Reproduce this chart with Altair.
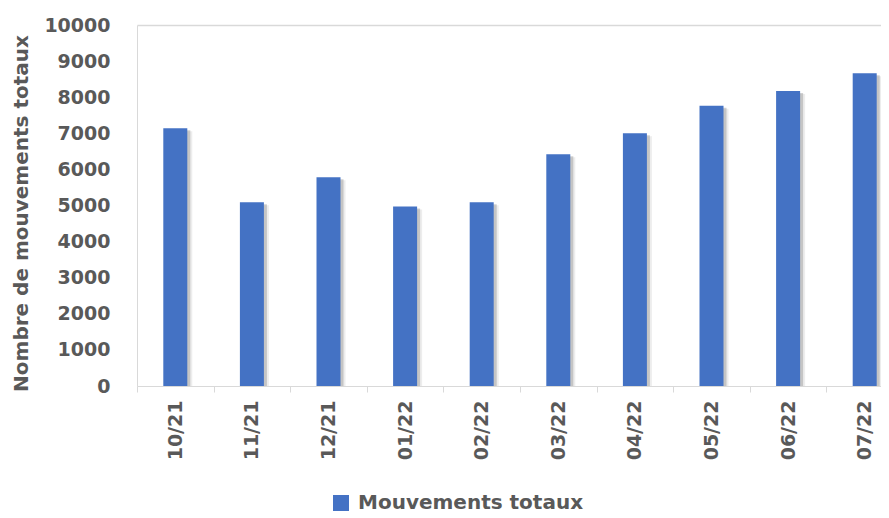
import altair as alt
import pandas as pd

months = ["10/21", "11/21", "12/21", "01/22", "02/22", "03/22", "04/22", "05/22", "06/22", "07/22"]
values = [7140, 5090, 5780, 4970, 5090, 6420, 7000, 7760, 8170, 8660]
series_name = "Mouvements totaux"
y_ticks = list(range(0, 10001, 1000))
y_title = "Nombre de mouvements totaux"

df = pd.DataFrame({"mois": months, "valeur": values, "serie": [series_name] * len(months)})

FONT = "DejaVu Sans"
TXT = "#595959"
LINE = "#D9D9D9"
BLUE = "#4472C4"

x_enc = alt.X(
    "mois:N",
    sort=months,
    scale=alt.Scale(range=[0, 766], paddingInner=0, paddingOuter=0),
    axis=alt.Axis(
        title=None,
        labelAngle=-90,
        tickBand="extent",
        tickColor=LINE,
        tickSize=6,
        domainColor=LINE,
        labelPadding=8,
        labelFont=FONT,
        labelFontSize=19,
        labelFontWeight="bold",
        labelColor=TXT,
        labelOverlap=False,
        grid=False,
    ),
)
y_enc = alt.Y(
    "valeur:Q",
    scale=alt.Scale(domain=[0, 10000]),
    axis=alt.Axis(
        values=y_ticks,
        tickCount=11,
        format="d",
        title=y_title,
        grid=True,
        gridColor=alt.condition("datum.value == 10000", alt.value(LINE), alt.value("transparent")),
        gridWidth=1.5,
        ticks=False,
        domainColor=LINE,
        labelPadding=27,
        labelOverlap=False,
        labelFont=FONT,
        labelFontSize=19,
        labelFontWeight="bold",
        labelColor=TXT,
        titleFont=FONT,
        titleFontSize=20,
        titleFontWeight="bold",
        titleColor=TXT,
        titlePadding=12,
        titleY=188,
    ),
)

base = alt.Chart(df)

shadow2 = base.mark_bar(width=24, xOffset=5, yOffset=3, color="#9a9a9a", opacity=0.18, clip=True).encode(x=x_enc, y=y_enc)
shadow1 = base.mark_bar(width=24, xOffset=3, yOffset=2, color="#7a7a7a", opacity=0.35, clip=True).encode(x=x_enc, y=y_enc)

bars = base.mark_bar(width=24).encode(
    x=x_enc,
    y=y_enc,
    color=alt.Color(
        "serie:N",
        scale=alt.Scale(range=[BLUE]),
        legend=alt.Legend(
            title=None,
            orient="none",
            legendX=194,
            legendY=468,
            symbolType="square",
            symbolSize=256,
            symbolStrokeWidth=0,
            symbolOpacity=1,
            labelFont=FONT,
            labelFontSize=20,
            labelFontWeight="bold",
            labelColor=TXT,
            labelOffset=7,
            labelLimit=0,
            padding=0,
        ),
    ),
)

chart = (
    alt.layer(shadow2, shadow1, bars)
    .properties(
        width=744,
        height=361,
        autosize=alt.AutoSizeParams(type="none"),
        padding={"left": 129, "top": 17, "right": 0, "bottom": 132},
        background="white",
    )
    .configure_view(stroke=None)
)

chart.save("out.html", embed_options={"renderer": "svg", "actions": False})
